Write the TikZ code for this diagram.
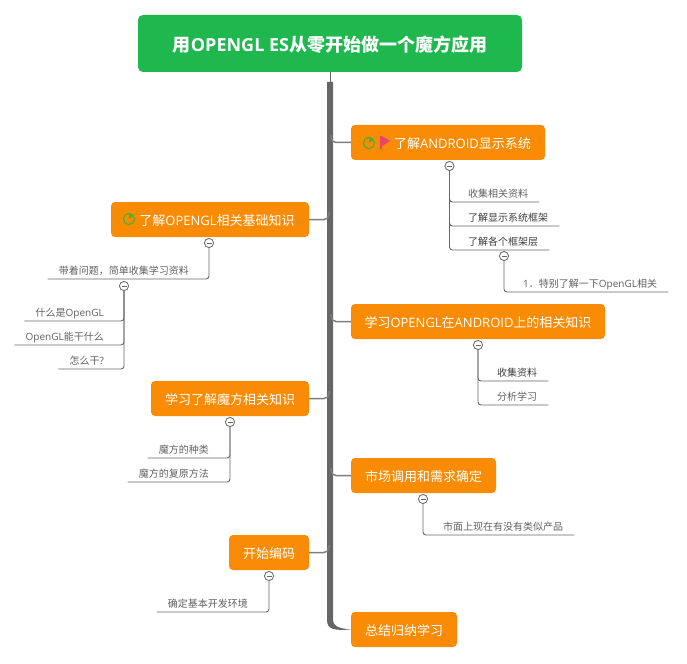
\documentclass[tikz,border=0pt]{standalone}
\usepackage{fontspec}
\setmainfont{Open Sans}
\newfontfamily\cjk{Noto Sans CJK SC}
\newcommand{\zh}[1]{{\cjk #1}}
\definecolor{rootgreen}{HTML}{1FB84E}
\definecolor{topicorange}{HTML}{FA8C05}
\definecolor{trunkgray}{HTML}{666666}
\definecolor{leafgray}{HTML}{606060}
\definecolor{leafdark}{HTML}{3C3C3C}
\definecolor{iconpink}{HTML}{E8456B}
\definecolor{icongreen}{HTML}{4FB030}
\tikzset{
  roottopic/.style={fill=rootgreen, text=white, rounded corners=5, minimum width=384, minimum height=57, inner sep=0, text height=18, text depth=1.2, font=\bfseries\fontsize{18}{20}\selectfont},
  maintopic/.style={fill=topicorange, text=white, rounded corners=4, minimum height=35, inner sep=0, text height=14, text depth=2, font=\fontsize{13}{15}\selectfont},
  leafr/.style={anchor=south west, text=leafgray, inner xsep=11, inner ysep=0, minimum height=18, text height=11.6, text depth=3, font=\fontsize{10}{12}\selectfont},
  leafl/.style={leafr, anchor=south east},
  foldmark/.style={circle, draw=trunkgray, fill=white, line width=.7, minimum size=9, inner sep=0, path picture={\draw[trunkgray, line width=.7] (path picture bounding box.center) ++(-2.5,0) --++(5,0);}},
  trunkbranch/.style={draw=trunkgray!85, line width=1.5, rounded corners=5},
  leafline/.style={draw=trunkgray, line width=.9, rounded corners=3},
}
\begin{document}
\begin{tikzpicture}[x=1pt, y=-1pt]
\useasboundingbox (0,0) rectangle (687,663);
% topics
\node[roottopic] (root) at (330,43.5) {\zh{用}OPENGL ES\zh{从零开始做一个魔方应用}};
\node[maintopic, minimum width=194] (android) at (448,142.5) {\hspace*{29pt}\zh{了解}ANDROID\zh{显示系统}};
\node[maintopic, minimum width=254] (gles) at (478,321.5) {\zh{学习}OPENGL\zh{在}ANDROID\zh{上的相关知识}};
\node[maintopic, minimum width=145] (market) at (423.5,475.5) {\zh{市场调用和需求确定}};
\node[maintopic, minimum width=106] (summary) at (404,629.5) {\zh{总结归纳学习}};
\node[maintopic, minimum width=198] (basics) at (210,219.5) {\hspace*{14pt}\zh{了解}OPENGL\zh{相关基础知识}};
\node[maintopic, minimum width=158] (cube) at (230,398.5) {\zh{学习了解魔方相关知识}};
\node[maintopic, minimum width=80] (coding) at (269,552.5) {\zh{开始编码}};
% trunk
\coordinate (trunktop) at (330,82);
\draw[trunkgray, line width=1] (root.south) -- (trunktop);
\fill[trunkgray] (327,82) -- (333,82) -- (333,620) .. controls (333,625) and (337,628.5) .. (summary.west) .. controls (335,630.5) and (327,630) .. (327,620) -- cycle;
\foreach \name/\y in {android/135, gles/314, market/468} {
  \coordinate (from\name) at (331,\y);
  \draw[trunkbranch] (from\name) |- (\name.west);
}
\foreach \name/\y in {basics/212, cube/391, coding/545} {
  \coordinate (from\name) at (329,\y);
  \draw[trunkbranch] (from\name) |- (\name.east);
}
% icons
\foreach \x/\y in {369/143, 129/219} {
  \draw[icongreen, line width=1.2] (\x,\y) circle (5.6);
  \fill[icongreen] (\x,\y) -- (\x,\y-5.6) arc (-90:-35:5.6) -- cycle;
}
\fill[iconpink] (380,136) rectangle (382,149);
\fill[iconpink] (382,136) -- (390,141) -- (382,146) -- cycle;
% fold marks
\node[foldmark] (foldandroid) at (449.5,166) {};
\node[foldmark] (foldframe) at (504,256) {};
\node[foldmark] (foldgles) at (478,345) {};
\node[foldmark] (foldmarket) at (423,499) {};
\node[foldmark] (foldbasics) at (209,243) {};
\node[foldmark] (foldcollect) at (124,286) {};
\node[foldmark] (foldcube) at (230,422) {};
\node[foldmark] (foldcoding) at (269,576) {};
% right leaves
\node[leafr] (resources) at (457,202) {\zh{收集相关资料}};
\node[leafr, text=leafdark] (display) at (457,226) {\zh{了解显示系统框架}};
\node[leafr, text=leafdark] (layers) at (457,250) {\zh{了解各个框架层}};
\node[leafr] (special) at (512,292) {1\zh{．特别了解一下}OpenGL\zh{相关}};
\node[leafr, text=leafdark] (gather) at (486,381) {\zh{收集资料}};
\node[leafr] (analyse) at (486,405) {\zh{分析学习}};
\node[leafr] (similar) at (432,535) {\zh{市面上现在有没有类似产品}};
% left leaves
\node[leafl] (questions) at (200,279) {\zh{带着问题，简单收集学习资料}};
\node[leafl] (whatis) at (115,321) {\zh{什么是}OpenGL};
\node[leafl] (whatfor) at (115,345) {OpenGL\zh{能干什么}};
\node[leafl] (howto) at (115,369) {\zh{怎么干}?};
\node[leafl] (kinds) at (220,458) {\zh{魔方的种类}};
\node[leafl] (restore) at (220,482) {\zh{魔方的复原方法}};
\node[leafl] (setup) at (259,612) {\zh{确定基本开发环境}};
% leaf connectors
\foreach \fold/\leaf in {foldandroid/resources, foldandroid/display, foldandroid/layers, foldframe/special, foldgles/gather, foldgles/analyse, foldmarket/similar}
  \draw[leafline] (\fold) |- (\leaf.south east);
\foreach \fold/\leaf in {foldbasics/questions, foldcollect/whatis, foldcollect/whatfor, foldcollect/howto, foldcube/kinds, foldcube/restore, foldcoding/setup}
  \draw[leafline] (\fold) |- (\leaf.south west);
% fold marks again, over their lines
\foreach \x/\y in {449.5/166, 504/256, 478/345, 423/499, 209/243, 124/286, 230/422, 269/576}
  \node[foldmark] at (\x,\y) {};
\end{tikzpicture}
\end{document}
